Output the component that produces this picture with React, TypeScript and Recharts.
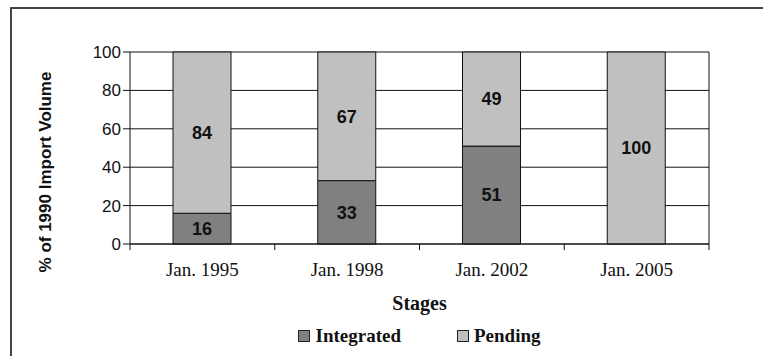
import { BarChart, Bar, XAxis, YAxis, CartesianGrid, Legend, LabelList } from "recharts";

const stages = ["Jan. 1995", "Jan. 1998", "Jan. 2002", "Jan. 2005"];
const integrated = [16, 33, 51, 0];
const pending = [84, 67, 49, 100];
const yTicks = [0, 20, 40, 60, 80, 100];

const data = stages.map((stage, i) => ({
  stage,
  integrated: integrated[i],
  pending: pending[i],
}));

const SANS = "'Liberation Sans', Arial, sans-serif";
const SERIF = "'Liberation Serif', 'DejaVu Serif', serif";
const TICK_GAP = 19;

const legendItems = [
  { label: "Integrated", color: "#808080" },
  { label: "Pending", color: "#c0c0c0" },
];

const LegendContent = () => (
  <div style={{ display: "flex", justifyContent: "center", gap: 56, paddingLeft: 76 }}>
    {legendItems.map((item) => (
      <div key={item.label} style={{ display: "flex", alignItems: "center", gap: 5 }}>
        <div
          style={{
            width: 10,
            height: 10,
            background: item.color,
            border: "1px solid #222",
          }}
        />
        <span style={{ fontFamily: SERIF, fontWeight: "bold", fontSize: 19, color: "#111" }}>
          {item.label}
        </span>
      </div>
    ))}
  </div>
);

// category label plus the tick marks that sit between categories (Excel style)
const StageTick = (props: any) => {
  const { x, y, payload, index, visibleTicksCount, width } = props;
  const step = width / visibleTicksCount;
  const axisY = y - TICK_GAP;
  const last = index === visibleTicksCount - 1;
  return (
    <g>
      <line x1={x - step / 2} x2={x - step / 2} y1={axisY} y2={axisY + 6} stroke="#111" />
      {last && <line x1={x + step / 2} x2={x + step / 2} y1={axisY} y2={axisY + 6} stroke="#111" />}
      <text
        x={x}
        y={y}
        dy="0.71em"
        textAnchor="middle"
        fontFamily={SERIF}
        fontSize={19}
        fill="#111"
      >
        {payload.value}
      </text>
    </g>
  );
};

const hideZero = (v: any) => (v === 0 ? "" : v);

export default function App() {
  return (
    <div style={{ position: "relative", width: 763, height: 356, background: "#fff" }}>
      <style>{`body{margin:0}`}</style>
      <div
        style={{
          position: "absolute",
          left: 10,
          top: 7,
          width: 751,
          height: 347,
          borderTop: "2px solid #444",
          borderLeft: "2px solid #444",
        }}
      />
      <BarChart
        width={763}
        height={356}
        data={data}
        margin={{ top: 52, right: 54, bottom: 32, left: 60 }}
        barSize={58}
      >
        <CartesianGrid
          stroke="#111"
          strokeWidth={1}
          verticalCoordinatesGenerator={({ offset }: any) => [offset.left + offset.width]}
        />
        <XAxis
          dataKey="stage"
          height={80}
          axisLine={{ stroke: "#111" }}
          tickLine={false}
          tickSize={0}
          tickMargin={TICK_GAP}
          tick={<StageTick />}
          label={{
            content: ({ viewBox }: any) => (
              <text
                x={viewBox.x + viewBox.width / 2}
                y={viewBox.y + 66}
                textAnchor="middle"
                fontFamily={SERIF}
                fontWeight="bold"
                fontSize={20}
                fill="#111"
              >
                Stages
              </text>
            ),
          }}
        />
        <YAxis
          width={70}
          domain={[0, 100]}
          ticks={yTicks}
          tickSize={7}
          axisLine={{ stroke: "#111" }}
          tickLine={{ stroke: "#111" }}
          tick={{ fontFamily: SANS, fontSize: 17, fill: "#111" }}
          label={{
            content: () => (
              <text
                x={51}
                y={172}
                transform="rotate(-90 51 172)"
                textAnchor="middle"
                fontFamily={SANS}
                fontWeight="bold"
                fontSize={17}
                fill="#111"
              >
                % of 1990 Import Volume
              </text>
            ),
          }}
        />
        <Legend
          verticalAlign="middle"
          align="center"
          layout="horizontal"
          content={<LegendContent />}
          wrapperStyle={{ top: 325, left: 0, width: 763 }}
        />
        <Bar
          dataKey="integrated"
          stackId="s"
          fill="#808080"
          stroke="#111"
          strokeWidth={1}
          isAnimationActive={false}
        >
          <LabelList
            dataKey="integrated"
            position="center"
            formatter={hideZero}
            style={{ fontFamily: SANS, fontWeight: "bold", fontSize: 18, fill: "#111" }}
          />
        </Bar>
        <Bar
          dataKey="pending"
          stackId="s"
          fill="#c0c0c0"
          stroke="#111"
          strokeWidth={1}
          isAnimationActive={false}
        >
          <LabelList
            dataKey="pending"
            position="center"
            formatter={hideZero}
            style={{ fontFamily: SANS, fontWeight: "bold", fontSize: 18, fill: "#111" }}
          />
        </Bar>
      </BarChart>
    </div>
  );
}
